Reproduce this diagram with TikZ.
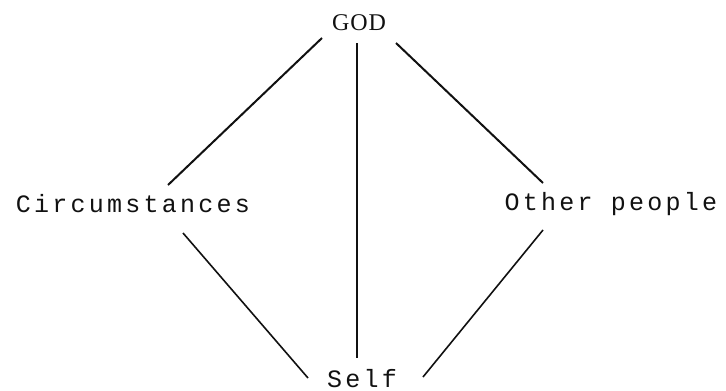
\documentclass[tikz,border=0pt]{standalone}
\usepackage{fontspec}
\newfontfamily\labelfont[LetterSpace=13]{Liberation Mono}
\newfontfamily\godfont[LetterSpace=4]{Liberation Serif}
\usetikzlibrary{positioning}
\definecolor{ink}{HTML}{111111}

\begin{document}
\begin{tikzpicture}[
    x=1pt, y=1pt,
    lbl/.style={font=\labelfont\fontsize{25}{30}\selectfont, text=ink,
                inner sep=0pt, anchor=base},
    top/.style={font=\godfont\fontsize{24}{28}\selectfont, text=ink,
                inner sep=0pt, anchor=base},
    link/.style={draw=ink, line width=2pt},
]
\useasboundingbox (0,0) rectangle (726,-391);

% ---------------------------------------------------------- the four labels
\node[top] (god)   at (359,-30)  {GOD};
\node[lbl] (circ)  at (133,-212) {Circumstances};
\node[lbl] (other) at (611,-210) {Other people};
\node[lbl] (self)  at (362,-387) {Self};

% ---------------------------------------------------------- from above
\draw[link] ([shift={(-37,-8)}]god.base)  -- ([shift={(35,27)}]circ.base);
\draw[link] ([shift={(-2,-13)}]god.base)  -- ([shift={(-5,29)}]self.base);
\draw[link] ([shift={(37,-13)}]god.base)  -- ([shift={(-68,27)}]other.base);

% ---------------------------------------------------------- down to self
\draw[link, line width=1.6pt] ([shift={(50,-21)}]circ.base)
    -- ([shift={(-54,9)}]self.base);
\draw[link, line width=1.6pt] ([shift={(-68,-20)}]other.base)
    -- ([shift={(61,10)}]self.base);

\end{tikzpicture}
\end{document}
